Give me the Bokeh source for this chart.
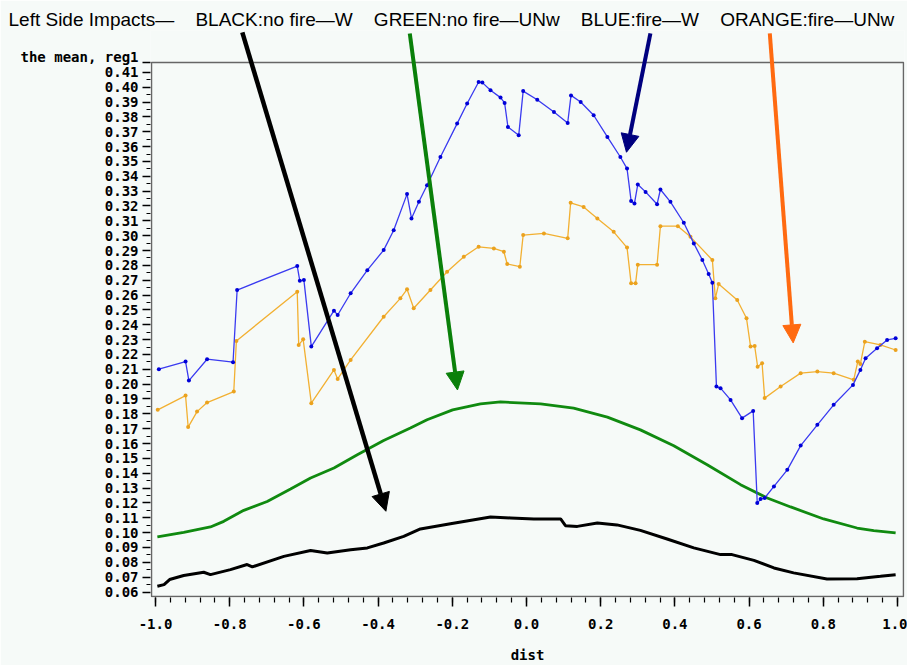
from bokeh.plotting import figure
from bokeh.models import (FixedTicker, PrintfTickFormatter, Arrow, NormalHead, Range1d,
                          Title, BoxAnnotation)
from bokeh.embed import file_html
from bokeh.resources import INLINE

# ---------------- data ----------------
blue_x = [-0.991, -0.919, -0.910, -0.861, -0.791, -0.780, -0.618, -0.611, -0.600, -0.580,
          -0.519, -0.509, -0.474, -0.429, -0.385, -0.358, -0.322, -0.310, -0.290, -0.268,
          -0.232, -0.187, -0.160, -0.129, -0.119, -0.097, -0.070, -0.059, -0.050, -0.021,
          -0.009, 0.029, 0.074, 0.111, 0.120, 0.146, 0.181, 0.218, 0.253, 0.271,
          0.282, 0.291, 0.300, 0.321, 0.352, 0.361, 0.388, 0.424, 0.451, 0.474,
          0.491, 0.501, 0.512, 0.523, 0.550, 0.581, 0.611, 0.622, 0.631, 0.642,
          0.667, 0.703, 0.739, 0.784, 0.828, 0.880, 0.900, 0.914, 0.945, 0.972, 0.995]
blue_y = [0.2101, 0.2152, 0.2024, 0.2168, 0.2148, 0.2634, 0.2795, 0.2696, 0.2701, 0.2253,
          0.2495, 0.2466, 0.2612, 0.2768, 0.2903, 0.3037, 0.3280, 0.3116, 0.3228, 0.3340,
          0.3530, 0.3755, 0.3890, 0.4035, 0.4031, 0.3979, 0.3930, 0.3894, 0.3732, 0.3676,
          0.3974, 0.3916, 0.3833, 0.3759, 0.3945, 0.3900, 0.3811, 0.3665, 0.3530, 0.3452,
          0.3234, 0.3217, 0.3345, 0.3295, 0.3212, 0.3311, 0.3228, 0.3087, 0.2948, 0.2836,
          0.2742, 0.2683, 0.1984, 0.1973, 0.1894, 0.1771, 0.1820, 0.1199, 0.1226, 0.1233,
          0.1311, 0.1423, 0.1586, 0.1726, 0.1861, 0.1995, 0.2096, 0.2175, 0.2242, 0.2298, 0.2309]

orange_x = [-0.994, -0.919, -0.912, -0.888, -0.861, -0.789, -0.782, -0.618, -0.614, -0.602,
            -0.580, -0.519, -0.509, -0.474, -0.385, -0.340, -0.322, -0.304, -0.259, -0.214,
            -0.169, -0.129, -0.088, -0.061, -0.052, -0.018, -0.009, 0.047, 0.111, 0.119,
            0.154, 0.191, 0.235, 0.271, 0.282, 0.294, 0.300, 0.352, 0.361, 0.408,
            0.442, 0.501, 0.509, 0.518, 0.568, 0.593, 0.604, 0.615, 0.623, 0.635,
            0.642, 0.685, 0.739, 0.784, 0.828, 0.882, 0.893, 0.900, 0.912, 0.954, 0.995]
orange_y = [0.1827, 0.1923, 0.1711, 0.1815, 0.1876, 0.1950, 0.2291, 0.2623, 0.2264, 0.2302,
            0.1872, 0.2096, 0.2035, 0.2163, 0.2454, 0.2578, 0.2639, 0.2511, 0.2634, 0.2757,
            0.2858, 0.2925, 0.2914, 0.2892, 0.2809, 0.2791, 0.3004, 0.3015, 0.2982, 0.3221,
            0.3194, 0.3116, 0.3026, 0.2920, 0.2679, 0.2679, 0.2805, 0.2805, 0.3064, 0.3064,
            0.2992, 0.2836, 0.2578, 0.2674, 0.2567, 0.2444, 0.2253, 0.2257, 0.2118, 0.2141,
            0.1906, 0.1984, 0.2074, 0.2085, 0.2074, 0.2029, 0.2152, 0.2136, 0.2286, 0.2264, 0.2230]

green_x = [-0.995, -0.924, -0.852, -0.816, -0.762, -0.699, -0.636, -0.582, -0.519, -0.456,
           -0.385, -0.313, -0.268, -0.199, -0.124, -0.070, 0.038, 0.127, 0.218, 0.307,
           0.397, 0.487, 0.577, 0.649, 0.712, 0.801, 0.891, 0.936, 0.995]
green_y = [0.0971, 0.1002, 0.1038, 0.1076, 0.1150, 0.1210, 0.1294, 0.1368, 0.1435, 0.1524,
           0.1620, 0.1704, 0.1760, 0.1827, 0.1867, 0.1880, 0.1867, 0.1838, 0.1778, 0.1692,
           0.1585, 0.1457, 0.1323, 0.1233, 0.1173, 0.1092, 0.1031, 0.1013, 0.0998]

black_x = [-0.995, -0.977, -0.962, -0.924, -0.870, -0.852, -0.798, -0.753, -0.739, -0.654,
           -0.582, -0.537, -0.474, -0.429, -0.385, -0.331, -0.286, -0.205, -0.097, -0.043,
           0.020, 0.038, 0.092, 0.105, 0.137, 0.191, 0.244, 0.307, 0.379, 0.451,
           0.523, 0.554, 0.613, 0.667, 0.720, 0.810, 0.891, 0.954, 0.995]
black_y = [0.0639, 0.0650, 0.0684, 0.0711, 0.0733, 0.0717, 0.0751, 0.0785, 0.0769, 0.0840,
           0.0879, 0.0863, 0.0885, 0.0897, 0.0930, 0.0975, 0.1025, 0.1060, 0.1105, 0.1099,
           0.1092, 0.1092, 0.1092, 0.1047, 0.1042, 0.1065, 0.1052, 0.1015, 0.0957, 0.0897,
           0.0852, 0.0852, 0.0813, 0.0762, 0.0729, 0.0688, 0.0690, 0.0706, 0.0717]

title_parts = ["Left Side Impacts\u2014", "BLACK:no fire\u2014W", "GREEN:no fire\u2014UNw",
               "BLUE:fire\u2014W", "ORANGE:fire\u2014UNw"]
y_label = "the mean, reg1"
x_label = "dist"
y_ticks = [round(0.06 + 0.01 * i, 2) for i in range(36)]
y_minor = [round(0.065 + 0.01 * i, 3) for i in range(35)]
x_ticks = [round(-1.0 + 0.2 * i, 1) for i in range(11)]
x_minor = [round(-1.0 + 0.04 * i, 2) for i in range(51)]

# plotted box (axis limits) and the drawable area around it
box_x = (-1.0108, 1.0162)
box_y = (0.0569, 0.4167)
area_x = (-1.0135, 1.0189)
area_y = (0.0563, 0.4382)

# arrows: (x_start, y_start, x_end, y_end) in data units
arrow_black = (-0.766, 0.4369, -0.379, 0.1144)
arrow_green = (-0.3146, 0.4362, -0.186, 0.1961)
arrow_blue = (0.334, 0.4362, 0.2695, 0.3562)
arrow_orange = (0.6558, 0.4362, 0.7189, 0.2278)

# ---------------- figure ----------------
BG = "#f6faf8"
MONO = "DejaVu Sans Mono"

p = figure(width=907, height=665, output_backend="svg", toolbar_location=None,
           x_range=Range1d(*area_x), y_range=Range1d(*area_y),
           min_border_left=150, min_border_right=3, min_border_top=30, min_border_bottom=67,
           background_fill_color=BG, border_fill_color=BG)
p.grid.visible = False
p.outline_line_color = None

# title in the panel above the plot
sp = "\u00a0" * 4
p.add_layout(Title(text=sp.join(title_parts), align="left", offset=-142, standoff=2,
                   text_font="Liberation Sans", text_font_style="normal",
                   text_font_size="19px", text_color="black"), "above")

# frame box of the axis limits
p.add_layout(BoxAnnotation(left=box_x[0], right=box_x[1], bottom=box_y[0], top=box_y[1],
                           fill_color=None, fill_alpha=0, line_color="#666666",
                           line_alpha=1.0, line_width=1.5))

for ax in (p.xaxis[0], p.yaxis[0]):
    ax.axis_line_color = None
    ax.major_tick_in = 0
    ax.minor_tick_in = 0
    ax.major_tick_line_color = "black"
    ax.minor_tick_line_color = "black"
    ax.major_tick_line_width = 1.5
    ax.minor_tick_line_width = 1.2
    ax.major_label_text_font = MONO
    ax.major_label_text_font_style = "bold"
    ax.major_label_text_font_size = "14px"
    ax.major_label_text_color = "black"

p.xaxis.ticker = FixedTicker(ticks=x_ticks, minor_ticks=x_minor)
p.xaxis.formatter = PrintfTickFormatter(format="%.1f")
p.xaxis.major_tick_out = 9
p.xaxis.minor_tick_out = 5
p.xaxis.major_label_standoff = 12
p.xaxis.axis_label = x_label
p.xaxis.axis_label_text_font = MONO
p.xaxis.axis_label_text_font_style = "bold"
p.xaxis.axis_label_text_font_size = "14px"
p.xaxis.axis_label_text_color = "black"
p.xaxis.axis_label_standoff = 15

# y axis: numeric ticks plus the axis title written at the top of the box
p.yaxis.ticker = FixedTicker(ticks=y_ticks + [box_y[1]], minor_ticks=y_minor)
p.yaxis.formatter = PrintfTickFormatter(format="%.2f")
p.yaxis.major_label_overrides = {box_y[1]: y_label + "\n\u00a0"}
p.yaxis.major_label_text_line_height = 0.65
p.yaxis.major_tick_out = 8
p.yaxis.minor_tick_out = 4
p.yaxis.major_label_standoff = 4

# series
p.line(black_x, black_y, line_color="black", line_width=3)
p.line(green_x, green_y, line_color="#108a10", line_width=2.8)
p.line(orange_x, orange_y, line_color="#f2b032", line_width=1.3)
p.scatter(orange_x, orange_y, size=4, marker="circle", fill_color="#eba21e", line_color=None)
p.line(blue_x, blue_y, line_color="#3a3af0", line_width=1.3)
p.scatter(blue_x, blue_y, size=4, marker="circle", fill_color="#0000d8", line_color=None)

# arrows
for (xs, ys, xe, ye), col, w in ((arrow_black, "black", 4.5), (arrow_green, "#0a800a", 4),
                                 (arrow_blue, "#00007f", 4), (arrow_orange, "#ff6a10", 4)):
    p.add_layout(Arrow(x_start=xs, y_start=ys, x_end=xe, y_end=ye,
                       line_color=col, line_width=w,
                       end=NormalHead(size=18, fill_color=col, line_color=col)))

open("out.html", "w").write(file_html(p, INLINE))
